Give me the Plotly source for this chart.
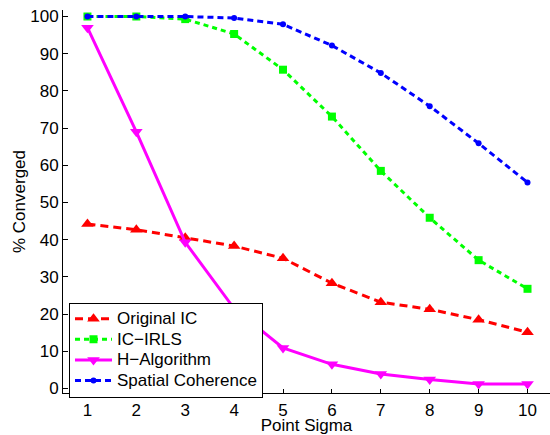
import plotly.graph_objects as go

sigma = [1, 2, 3, 4, 5, 6, 7, 8, 9, 10]
original_ic = [44.2, 42.7, 40.5, 38.3, 35.0, 28.3, 23.2, 21.3, 18.5, 15.1]
ic_irls = [100.0, 100.0, 99.3, 95.3, 85.7, 73.1, 58.5, 45.9, 34.5, 26.8]
h_algorithm = [97.0, 69.0, 39.3, 21.5, 10.9, 6.5, 3.9, 2.4, 1.2, 1.2]
spatial_coherence = [100.0, 100.0, 100.0, 99.6, 97.9, 92.2, 84.8, 75.9, 65.9, 55.4]
series_names = ["Original IC", "IC\u2212IRLS", "H\u2212Algorithm", "Spatial Coherence"]

x_ticks = [1, 2, 3, 4, 5, 6, 7, 8, 9, 10]
y_ticks = [0, 10, 20, 30, 40, 50, 60, 70, 80, 90, 100]

FONT = "Liberation Sans, Arial, Helvetica, sans-serif"
FS = 17


def lg(name):
    return '<span style="font-size:%dpx">%s</span>' % (FS, name)


fig = go.Figure()
fig.add_trace(go.Scatter(
    x=sigma, y=original_ic, name=lg(series_names[0]), mode="lines+markers",
    line=dict(color="#FF0000", width=3, dash="8px,5px"),
    marker=dict(symbol="triangle-up", size=11, color="#FF0000")))
fig.add_trace(go.Scatter(
    x=sigma, y=ic_irls, name=lg(series_names[1]), mode="lines+markers",
    line=dict(color="#00FF00", width=3, dash="5px,4px"),
    marker=dict(symbol="square", size=8, color="#00FF00")))
fig.add_trace(go.Scatter(
    x=sigma, y=h_algorithm, name=lg(series_names[2]), mode="lines+markers",
    line=dict(color="#FF00FF", width=3),
    marker=dict(symbol="triangle-down", size=11, color="#FF00FF")))
fig.add_trace(go.Scatter(
    x=sigma, y=spatial_coherence, name=lg(series_names[3]), mode="lines+markers",
    line=dict(color="#0000FF", width=3, dash="6px,4px"),
    marker=dict(symbol="circle", size=6, color="#0000FF")))

fig.update_layout(
    width=550, height=435,
    margin=dict(l=63, r=0, t=10, b=42),
    paper_bgcolor="white", plot_bgcolor="white",
    font=dict(family=FONT, size=FS, color="black"),
    showlegend=True,
    legend=dict(
        x=(69 - 63) / 487, y=(393 - 302.5) / 383, xanchor="left", yanchor="top",
        bgcolor="white", bordercolor="black", borderwidth=1,
        font=dict(family=FONT, size=13.5, color="black"),
        itemwidth=37,
    ),
    xaxis=dict(
        range=[0.5, 10.46], tickvals=x_ticks, ticktext=[str(v) for v in x_ticks],
        showline=True, linecolor="black", linewidth=1, mirror=False,
        ticks="inside", ticklen=4, tickcolor="black", showgrid=False, zeroline=False,
        ticklabelstandoff=2,
        title=dict(text="Point Sigma", standoff=3, font=dict(size=FS)),
        automargin=False,
    ),
    yaxis=dict(
        range=[-1.21, 101.75], tickvals=y_ticks, ticktext=[str(v) for v in y_ticks],
        showline=True, linecolor="black", linewidth=1, mirror=False,
        ticks="inside", ticklen=5, tickcolor="black", showgrid=False, zeroline=False,
        title=dict(text="% Converged", standoff=0, font=dict(size=FS)),
        automargin=False,
    ),
)

fig.write_html("out.html")
